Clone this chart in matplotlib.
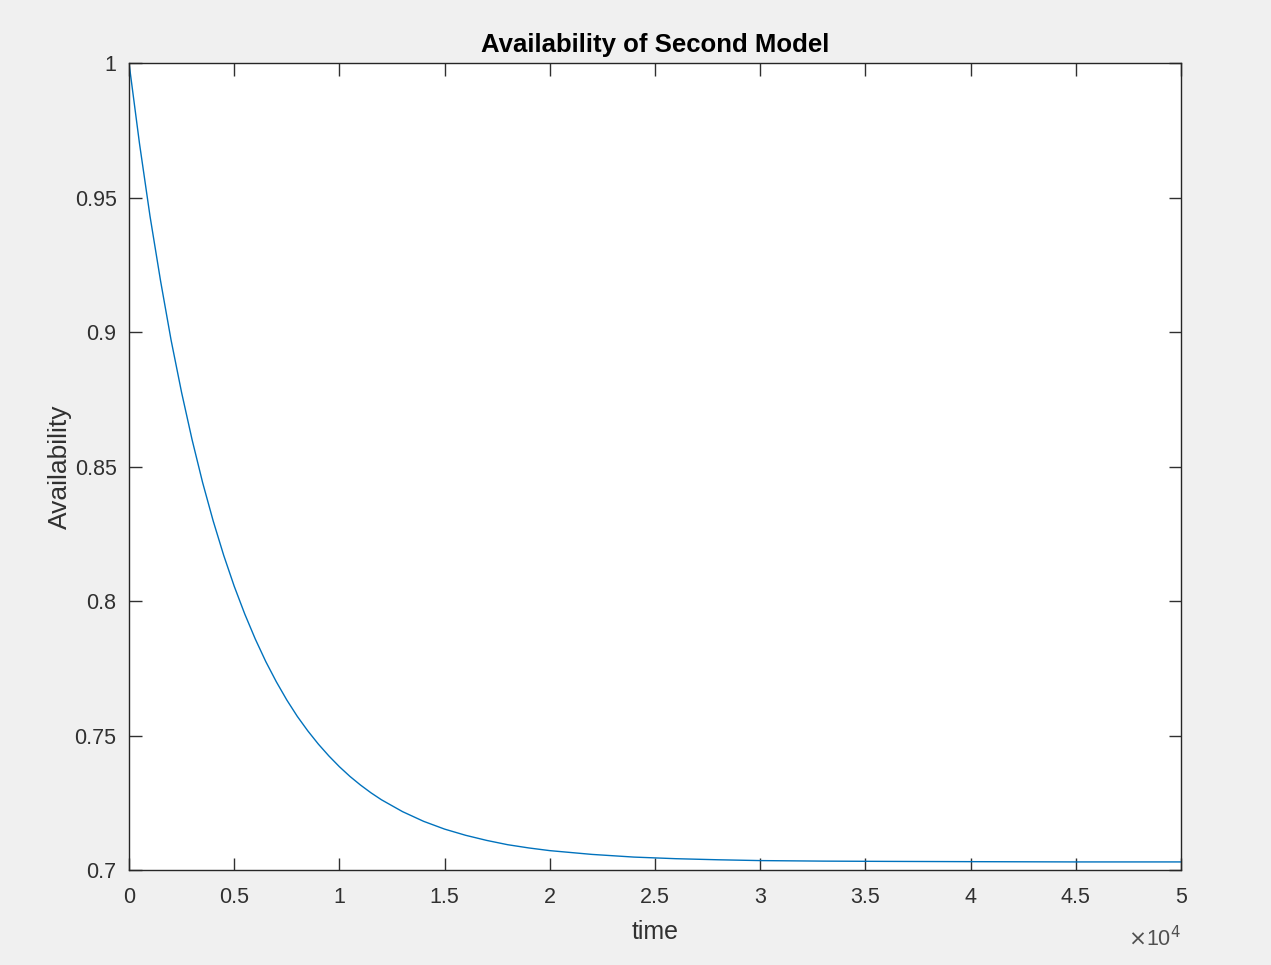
import matplotlib
matplotlib.use("Agg")
import matplotlib.pyplot as plt
from matplotlib.ticker import FuncFormatter

# data
time = [0, 500, 1000, 1500, 2000, 2500, 3000, 3500, 4000, 4500, 5000,
        5500, 6000, 6500, 7000, 7500, 8000, 8500, 9000, 9500, 10000,
        10500, 11000, 11500, 12000, 13000, 14000, 15000, 16000, 17000,
        18000, 19000, 20000, 22000, 24000, 26000, 28000, 30000, 33000,
        36000, 40000, 45000, 50000]
availability = [1.000, 0.970, 0.943, 0.919, 0.897, 0.8775, 0.8599, 0.8440, 0.8298, 0.8170, 0.8055,
                0.7952, 0.7859, 0.7775, 0.7700, 0.7632, 0.7571, 0.7517, 0.7468, 0.7424, 0.7384,
                0.7348, 0.7316, 0.7287, 0.7261, 0.7217, 0.7181, 0.7152, 0.7129, 0.7110,
                0.7094, 0.7082, 0.7072, 0.7058, 0.7048, 0.7042, 0.7038, 0.7035, 0.7033,
                0.7032, 0.7031, 0.7030, 0.7030]
xticks = [0, 5000, 10000, 15000, 20000, 25000, 30000, 35000, 40000, 45000, 50000]
yticks = [0.7, 0.75, 0.8, 0.85, 0.9, 0.95, 1.0]

plt.rcParams['font.family'] = ['Liberation Sans', 'DejaVu Sans']
txt = '#303030'

fig = plt.figure(figsize=(12.71, 9.65), dpi=100, facecolor='#f0f0f0')
ax = fig.add_axes([129/1271, 1-870/965, (1181-129)/1271, (870-63)/965])
ax.set_facecolor('white')
ax.plot(time, availability, color='#0072BD', lw=1.0)

ax.set_xlim(0, 50000)
ax.set_ylim(0.7, 1.0)
ax.set_xticks(xticks)
ax.set_yticks(yticks)
ax.xaxis.set_major_formatter(FuncFormatter(lambda v, p: f"{v/1e4:g}"))
ax.yaxis.set_major_formatter(FuncFormatter(lambda v, p: f"{v:g}"))
ax.tick_params(direction='in', length=9, width=1, top=True, right=True,
               labelsize=15.5, colors=txt)
ax.tick_params(axis='x', pad=12)
ax.tick_params(axis='y', pad=9)
for s in ax.spines.values():
    s.set_color('#262626')
    s.set_linewidth(1)

ax.set_title('Availability of Second Model', fontsize=18.5, fontweight='bold',
             color='black', pad=8)
ax.set_xlabel('time', fontsize=18, color=txt, labelpad=9)
ax.set_ylabel('Availability', fontsize=19, color=txt, labelpad=2)
ax.text(1.0, -0.069, r'$\times\mathregular{10}^{4}$', transform=ax.transAxes,
        ha='right', va='top', fontsize=15.5, color='#505050')

fig.savefig('out.png', dpi=100, facecolor=fig.get_facecolor())
